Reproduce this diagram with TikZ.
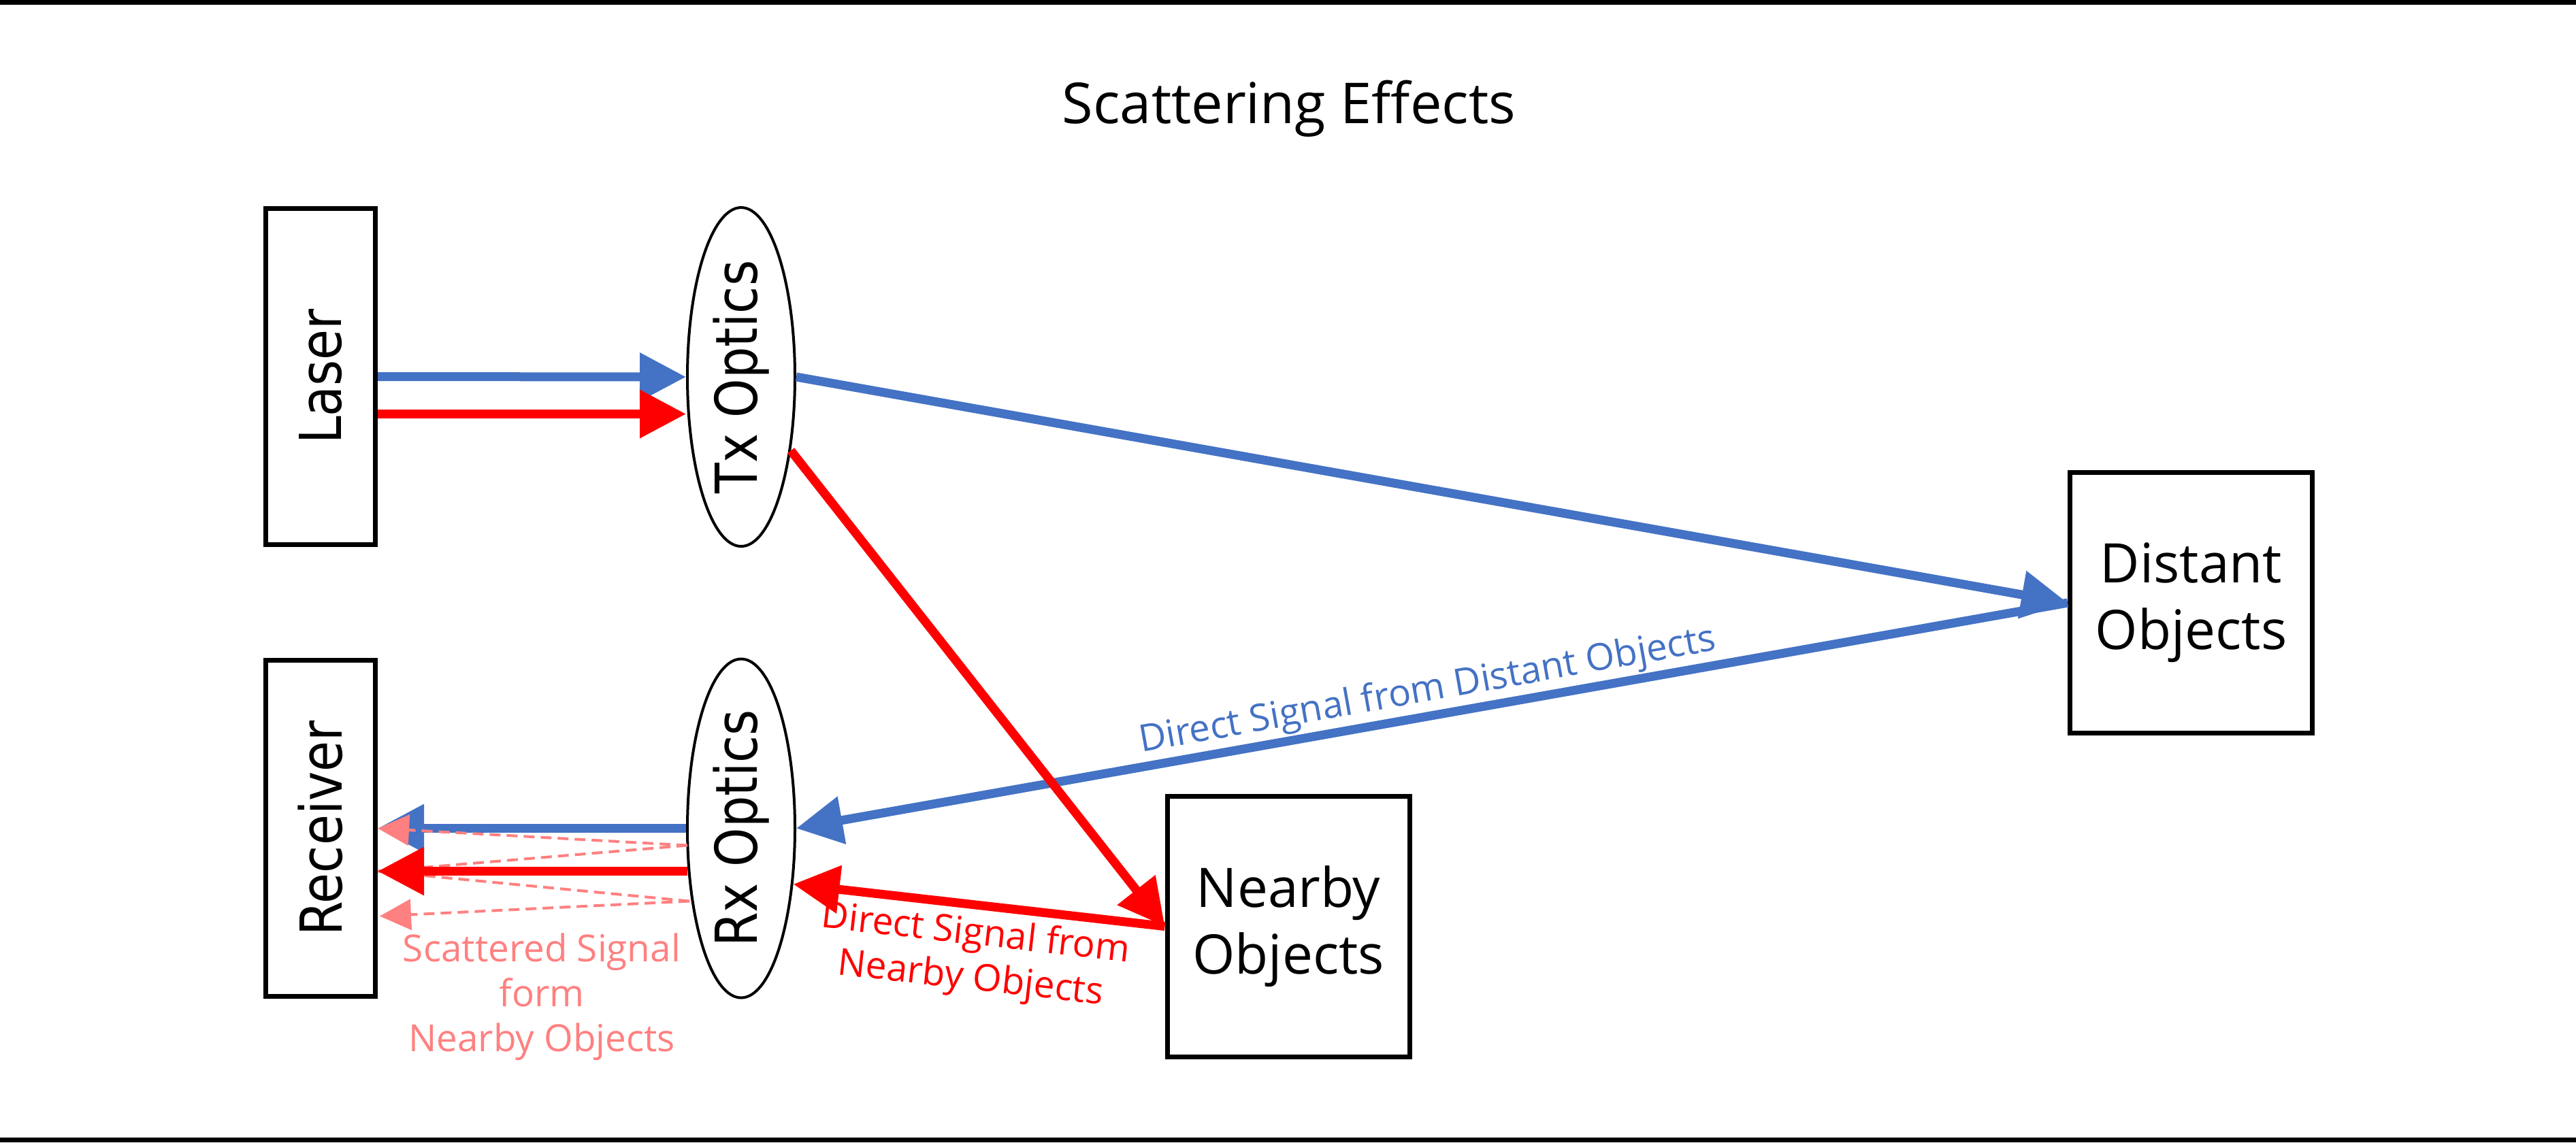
\documentclass[tikz,border=0pt]{standalone}
\usepackage{fontspec}
\usepackage{graphicx}
\setmainfont{Open Sans}
\newfontfamily\upfont{DejaVu Sans}
\usetikzlibrary{arrows.meta,shapes.geometric,calc}
\definecolor{sigblue}{HTML}{4472C4}
\definecolor{sigred}{HTML}{FF0000}
\definecolor{scatpink}{HTML}{FF8080}
\newcommand{\uplabel}[1]{\rotatebox{90}{\scalebox{0.86}[1]{#1}}}

\begin{document}
\begin{tikzpicture}[
  dev/.style={draw,line width=0.07cm,inner sep=0pt,minimum width=1.61cm,minimum height=4.94cm,font={\upfont\fontsize{24.2}{29}\selectfont}},
  obj/.style={draw,line width=0.07cm,inner sep=0pt,minimum width=3.56cm,minimum height=3.83cm,align=center,font={\fontsize{22.8}{27.9}\selectfont}},
  lens/.style={draw,ellipse,line width=0.04cm,inner sep=0pt,minimum width=1.58cm,minimum height=4.98cm,font={\upfont\fontsize{24.2}{29}\selectfont}},
  beam/.style={line width=0.13cm,-{Triangle[length=0.68cm,width=0.68cm]}},
  scat/.style={scatpink,line width=0.04cm,dash pattern=on 0.16cm off 0.09cm},
  scathead/.style={-{Triangle[length=0.46cm,width=0.45cm]}},
  lab/.style={font={\fontsize{15.6}{18.8}\selectfont}}
]
\useasboundingbox (0,0) rectangle (37.85,-16.79);
\fill (0,0) rectangle (37.85,-0.07);
\fill (0,-16.72) rectangle (37.85,-16.79);
\node[font={\fontsize{23.6}{28}\selectfont},anchor=base] (ttl) at (18.94,-1.81) {Scattering Effects};
\node[dev] (las) at (4.71,-5.535) {\uplabel{Laser}};
\node[dev] (rcv) at (4.71,-12.175) {\uplabel{Receiver}};
\node[lens] (tx) at (10.89,-5.54) {\uplabel{Tx Optics}};
\node[lens] (rx) at (10.89,-12.175) {\uplabel{Rx Optics}};
\node[obj] (dist) at (32.195,-8.86) {Distant\\Objects};
\node[obj] (near) at (18.93,-13.615) {Nearby\\Objects};
\node[lab,text=scatpink,align=center,inner sep=0pt] (scl) at (7.96,-14.65) {Scattered Signal\\form\\Nearby Objects};
\coordinate (lr) at ($(las.east)+(0,-0.55)$);
\coordinate (rr) at ($(rx.west)+(0.02,-0.63)$);
\coordinate (s1) at ($(rx.west)+(0.02,-0.25)$);
\coordinate (s2) at ($(rx.west)+(0.05,-1.07)$);
\coordinate (s3) at ($(rcv.east)+(0.03,-1.29)$);
\draw[beam,sigblue] (las.east) -- (tx.west);
\draw[beam,sigblue] (tx.east) -- (dist.west);
\draw[beam,sigblue] (dist.west) -- node[midway,above,sloped,inner sep=0.02cm,lab] {Direct Signal from Distant Objects} (rx.east);
\draw[beam,sigblue] (rx.west) -- (rcv.east);
\draw[scat,scathead] (s1) -- (rcv.east);
\draw[scat] (s1) -- (rcv.east |- rr);
\draw[scat] (s2) -- (rcv.east |- rr);
\draw[scat,scathead] (s2) -- (s3);
\draw[beam,sigred] (lr) -- (tx.west |- lr);
\draw[beam,sigred] (tx.-56) -- (near.west);
\draw[beam,sigred] (near.west) -- node[midway,below,sloped,inner sep=0.1cm,align=center,lab] {Direct Signal from\\Nearby Objects} (rx.-47);
\draw[beam,sigred] (rr) -- (rcv.east |- rr);
\end{tikzpicture}
\end{document}
